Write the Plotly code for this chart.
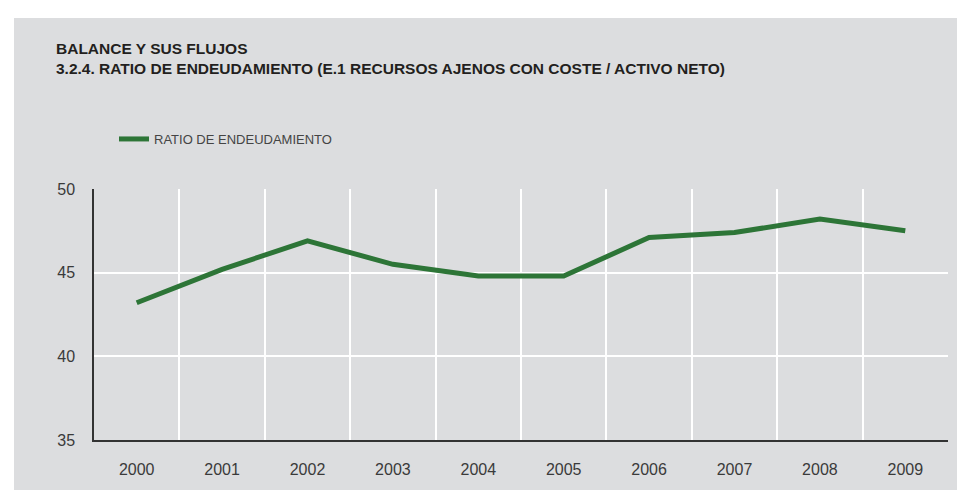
'''
Ratio de endeudamiento 2000-2009 as a plotly line chart.
'''

import plotly.graph_objects as go

years = ['2000', '2001', '2002', '2003', '2004',
         '2005', '2006', '2007', '2008', '2009']
ratio = [43.2, 45.2, 46.9, 45.5, 44.8, 44.8, 47.1, 47.4, 48.2, 47.5]
y_ticks = [35, 40, 45, 50]

series_name = 'RATIO DE ENDEUDAMIENTO'
title_lines = ['BALANCE Y SUS FLUJOS',
               '3.2.4. RATIO DE ENDEUDAMIENTO (E.1 RECURSOS AJENOS CON COSTE / ACTIVO NETO)']

GREEN = '#2D7537'
PANEL = '#DCDDDF'
FONT = 'Liberation Sans, Arial, sans-serif'

fig = go.Figure()
fig.add_trace(go.Scatter(x=years, y=ratio, mode='lines', name=series_name,
                         line={'color': GREEN, 'width': 5}))

# plot area in pixels: left 86, right 940, top 181, bottom 432
fig.update_layout(
    width=965, height=490,
    margin={'l': 86, 'r': 25, 't': 181, 'b': 58, 'pad': 0},
    paper_bgcolor='white',
    plot_bgcolor=PANEL,
    font={'family': FONT, 'color': '#333333'},
    title={'text': '<b>' + '<br>'.join(title_lines) + '</b>',
           'font': {'size': 15.5, 'color': '#231F20', 'family': FONT},
           'x': 48 / 965, 'xanchor': 'left', 'xref': 'container',
           'y': 1 - 46 / 490, 'yanchor': 'top', 'yref': 'container'},
    showlegend=True,
    legend={'orientation': 'h', 'x': 20 / 854, 'xanchor': 'left',
            'y': 1 + 50 / 251, 'yanchor': 'middle',
            'bgcolor': 'rgba(0,0,0,0)',
            'font': {'size': 13, 'color': '#444444', 'family': FONT}},
)

# grey panel behind everything
fig.add_shape(type='rect', xref='paper', yref='paper', layer='below',
              x0=(6 - 86) / 854, x1=(963 - 86) / 854,
              y0=(432 - 485) / 251, y1=(432 - 10) / 251,
              fillcolor=PANEL, line={'width': 0})

fig.update_xaxes(type='category', range=[-0.5, 9.5], tickson='boundaries',
                 showgrid=True, gridcolor='white', gridwidth=1.5,
                 showline=True, linecolor='#333333', linewidth=1.5,
                 ticks='', ticklabelstandoff=14,
                 tickfont={'size': 16, 'color': '#3A3A3A'}, zeroline=False)
fig.update_yaxes(range=[35, 50], tickvals=y_ticks,
                 showgrid=True, gridcolor='white', gridwidth=1.5,
                 showline=True, linecolor='#333333', linewidth=1.5,
                 ticks='', ticklabelstandoff=14,
                 tickfont={'size': 16, 'color': '#3A3A3A'}, zeroline=False)

fig.write_html('out.html')
